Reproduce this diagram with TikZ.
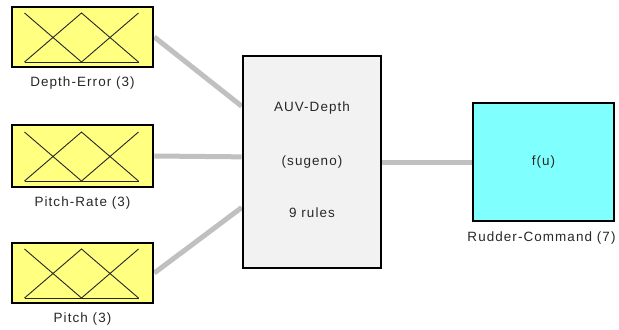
\documentclass[tikz,border=0pt]{standalone}
\usepackage{fontspec}
\setmainfont{Liberation Sans}[LetterSpace=8]
\usetikzlibrary{calc,backgrounds}
\definecolor{mfyellow}{RGB}{255,255,128}
\definecolor{fcyan}{RGB}{128,255,255}
\definecolor{fisgray}{RGB}{242,242,242}
\definecolor{wire}{RGB}{192,192,192}
\definecolor{txt}{RGB}{40,40,40}
\tikzset{
  blk/.style={draw=black,line width=2.6bp,inner sep=0pt},
  inbox/.style={blk,fill=mfyellow,minimum width=141bp,minimum height=60bp},
  lbl/.style={inner sep=0pt,font=\fontsize{13.5}{15}\selectfont,text=txt},
  wireline/.style={draw=wire,line width=5bp},
  mf/.style={draw=black!85,line width=0.9bp,line join=miter},
}
\newcommand{\mfplot}[1]{%
  \draw[mf] ($(#1.center)+(-58,-24)$) -- ($(#1.center)+(-1,25)$);
  \draw[mf] ($(#1.center)+(-58,25)$) -- ($(#1.center)+(-1,-24)$) -- ($(#1.center)+(56,25)$);
  \draw[mf] ($(#1.center)+(-1,25)$) -- ($(#1.center)+(56,-24)$);
  \draw[mf] ($(#1.center)+(-58,25)$) -- ($(#1.center)+(56,25)$);
}
\begin{document}
\begin{tikzpicture}[x=1bp,y=-1bp]
\useasboundingbox (0,0) rectangle (619,329);
\node[inbox] (b1) at (82.5,37) {};
\node[inbox,minimum height=62bp] (b2) at (82.5,156) {};
\node[inbox] (b3) at (82.5,273) {};
\node[blk,fill=fisgray,minimum width=138bp,minimum height=212bp] (auv) at (312,162) {};
\node[blk,fill=fcyan,minimum width=141bp,minimum height=118bp] (out) at (543.5,162) {};
\mfplot{b1}
\mfplot{b2}
\mfplot{b3}
\node[lbl] (l1) at ([yshift=-15bp]b1.south) {Depth-Error (3)};
\node[lbl] (l2) at ([yshift=-15bp]b2.south) {Pitch-Rate (3)};
\node[lbl] (l3) at ([yshift=-15bp]b3.south) {Pitch (3)};
\node[lbl] (l4) at ([xshift=-2bp,yshift=-16bp]out.south) {Rudder-Command (7)};
\node[lbl] (t1) at ([yshift=54bp]auv.center) {AUV-Depth};
\node[lbl] (t2) at (auv.center) {(sugeno)};
\node[lbl] (t3) at ([yshift=-51bp]auv.center) {9 rules};
\node[lbl] (t4) at (out.center) {f(u)};
\coordinate (in1) at ($(auv.north west)!0.24!(auv.south west)$);
\coordinate (in2) at ($(auv.north west)!0.476!(auv.south west)$);
\coordinate (in3) at ($(auv.north west)!0.712!(auv.south west)$);
\begin{scope}[on background layer]
\fill[white] (0,0) rectangle (619,329);
\draw[wireline] (b1.east) -- (in1);
\draw[wireline] (b2.east) -- (in2);
\draw[wireline] (b3.east) -- (in3);
\draw[wireline] (auv.east) -- (out.west);
\end{scope}
\end{tikzpicture}
\end{document}
